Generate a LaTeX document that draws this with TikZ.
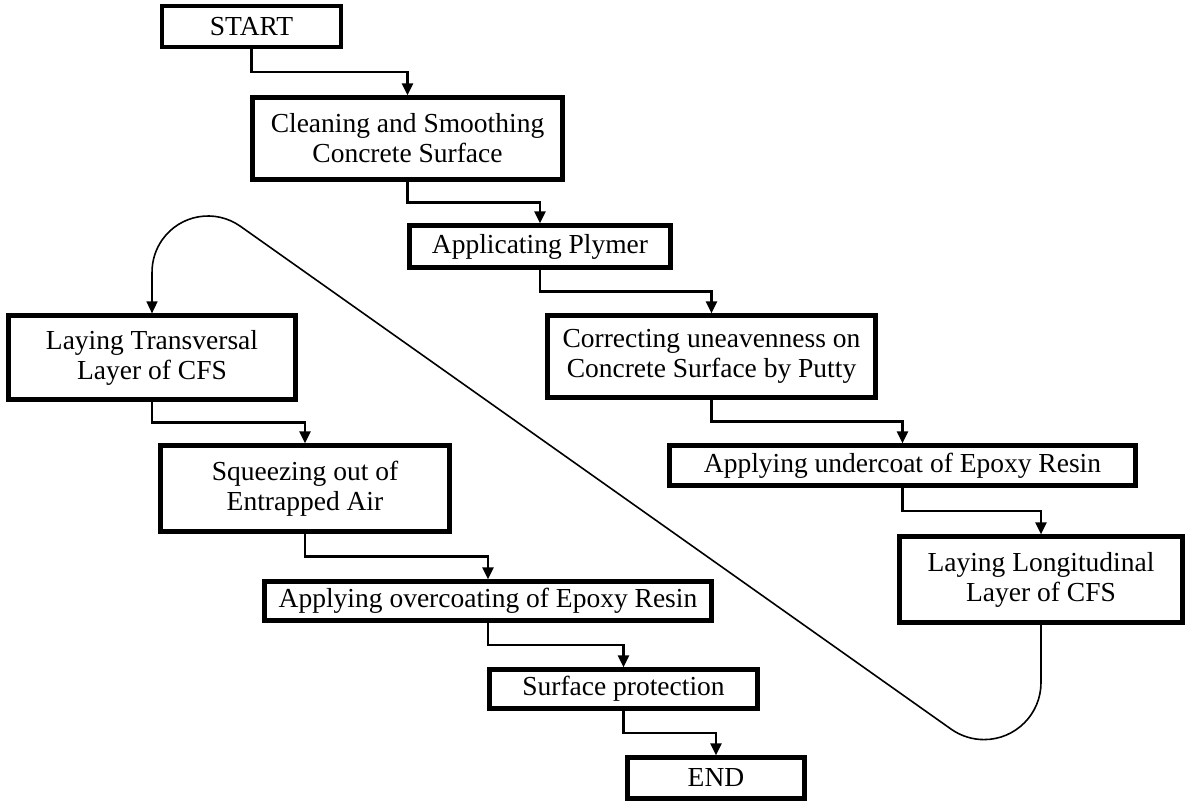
\documentclass[tikz,border=0pt]{standalone}
\usepackage{fontspec}
\setmainfont{Liberation Serif}
\usetikzlibrary{arrows.meta,calc}

\tikzset{
  stepbox/.style={draw, line width=4.2pt, rectangle, align=center, inner sep=2pt,
    font=\fontsize{27.5}{30}\selectfont},
  conn/.style={line width=2.2pt, -{Triangle[length=12pt,width=11pt]}},
  loop/.style={line width=1.6pt, -{Triangle[length=12pt,width=11pt]}},
}

% box-to-box elbow connector: down, across, down
\newcommand{\elbow}[2]{%
  \draw[conn] (#1.south) |- ($(#1.south)!.5!(#2.north)$) -| (#2.north);}

\begin{document}
\begin{tikzpicture}[x=1pt,y=1pt]
\useasboundingbox (0,0) rectangle (1187,803);

% right-hand column
\node[stepbox, minimum width=179, minimum height=41] (start) at (251.5,776.5) {START};
\node[stepbox, minimum width=310, minimum height=82] (clean) at (407.5,664.5)
  {Cleaning and Smoothing\\Concrete Surface};
\node[stepbox, minimum width=261, minimum height=42] (poly) at (540,556.5)
  {Applicating Plymer};
\node[stepbox, minimum width=328, minimum height=82] (putty) at (711.5,446.5)
  {Correcting uneavenness on\\Concrete Surface by Putty};
\node[stepbox, minimum width=466, minimum height=40] (under) at (902.5,337.5)
  {Applying undercoat of Epoxy Resin};
\node[stepbox, minimum width=283, minimum height=86] (longi) at (1041,223.5)
  {Laying Longitudinal\\Layer of CFS};

% left-hand column
\node[stepbox, minimum width=287, minimum height=84] (trans) at (152,445.5)
  {Laying Transversal\\Layer of CFS};
\node[stepbox, minimum width=289, minimum height=86] (squeeze) at (305,314.5)
  {Squeezing out of\\Entrapped Air};
\node[stepbox, minimum width=447, minimum height=39] (over) at (488,202)
  {Applying overcoating of Epoxy Resin};
\node[stepbox, minimum width=268, minimum height=39] (protect) at (623.5,114)
  {Surface protection};
\node[stepbox, minimum width=177, minimum height=41] (end) at (716,25) {END};

% step connectors
\elbow{start}{clean}
\elbow{clean}{poly}
\elbow{poly}{putty}
\elbow{putty}{under}
\elbow{under}{longi}
\elbow{trans}{squeeze}
\elbow{squeeze}{over}
\elbow{over}{protect}
\elbow{protect}{end}

% return loop from the longitudinal layer back to the transversal layer
\draw[loop] (longi.south) -- ++(0,-58)
  arc[start angle=0, end angle=-125.3, radius=57]
  -- (240.4,576.7)
  arc[start angle=54.7, end angle=180, radius=56]
  -- (trans.north);
\end{tikzpicture}
\end{document}
